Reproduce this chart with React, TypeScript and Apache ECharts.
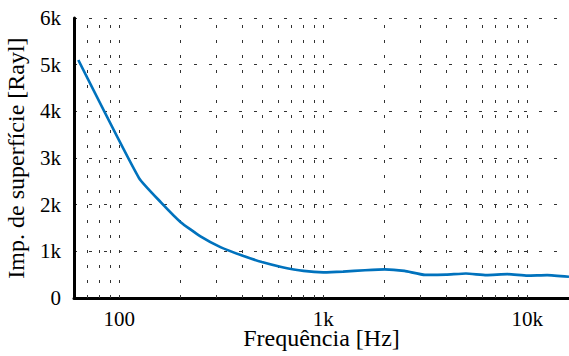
import React, { useEffect, useRef } from "react";
import * as echarts from "echarts";

const frequencies = [63, 125, 160, 200, 250, 315, 400, 500, 630, 800, 1000, 1250, 1600, 2000, 2500, 3150, 4000, 5000, 6300, 8000, 10000, 12500, 16000];
const impedance = [5100, 2570, 2050, 1625, 1320, 1085, 910, 770, 660, 580, 550, 565, 595, 615, 580, 495, 500, 525, 490, 510, 480, 490, 455];
const verticalGrid = [70, 80, 90, 100, 200, 300, 400, 500, 600, 700, 800, 900, 1000, 2000, 3000, 4000, 5000, 6000, 7000, 8000, 9000, 10000];
const yTicks = [0, 1000, 2000, 3000, 4000, 5000, 6000];

const FONT = "'Liberation Serif', 'Times New Roman', serif";

export default function App() {
  const ref = useRef<HTMLDivElement>(null);
  useEffect(() => {
    if (!ref.current) return;
    const chart = echarts.init(ref.current, null, { renderer: "svg" });
    const fmtK = (v: number) => (v === 0 ? "0" : v >= 1000 ? `${Math.round(v / 1000)}k` : String(Math.round(v)));
    chart.setOption({
      animation: false,
      backgroundColor: "#fff",
      textStyle: { fontFamily: FONT },
      grid: { left: 74, right: 0, top: 18, bottom: 58, containLabel: false, outerBoundsMode: "none" },
      xAxis: {
        type: "log",
        logBase: 10,
        min: 60,
        max: 16000,
        name: "Frequência [Hz]",
        nameLocation: "middle",
        nameGap: 28,
        nameMoveOverlap: false,
        nameTextStyle: { fontFamily: FONT, fontSize: 24, color: "#000", lineHeight: 24 },
        axisLine: { show: true, onZero: false, lineStyle: { color: "#000", width: 3 } },
        axisTick: { show: false },
        splitLine: { show: false },
        minorTick: { show: false },
        axisLabel: {
          margin: 10,
          fontFamily: FONT,
          fontSize: 21,
          color: "#000",
          showMinLabel: false,
          showMaxLabel: false,
          formatter: (v: number) => {
            const r = Math.round(v);
            const l = Math.log10(r);
            if (Math.abs(l - Math.round(l)) > 1e-6) return "";
            return fmtK(r);
          },
        },
      },
      yAxis: {
        type: "value",
        min: yTicks[0],
        max: yTicks[yTicks.length - 1],
        interval: 1000,
        name: "Imp. de superfície [Rayl]",
        nameLocation: "middle",
        nameGap: 46,
        nameTextStyle: { fontFamily: FONT, fontSize: 24, color: "#000" },
        axisLine: { show: true, lineStyle: { color: "#000", width: 3 } },
        axisTick: { show: false },
        axisLabel: { margin: 13, fontFamily: FONT, fontSize: 21, color: "#000", formatter: fmtK },
        splitLine: { show: true, lineStyle: { color: "#333", width: 1, type: [3, 12] } },
      },
      series: [
        {
          type: "line",
          data: frequencies.map((f, i) => [f, impedance[i]]),
          showSymbol: false,
          smooth: 0.15,
          lineStyle: { color: "#0072BD", width: 2.7 },
          z: 5,
          markLine: {
            silent: true,
            symbol: ["none", "none"],
            label: { show: false },
            lineStyle: { color: "#333", width: 1, type: [3, 12] },
            emphasis: { disabled: true },
            data: verticalGrid.map((v) => ({ xAxis: v })),
            z: 1,
          },
        },
      ],
    });
    return () => chart.dispose();
  }, []);
  return <div ref={ref} style={{ position: "fixed", left: 0, top: 0, width: 569, height: 356 }} />;
}
